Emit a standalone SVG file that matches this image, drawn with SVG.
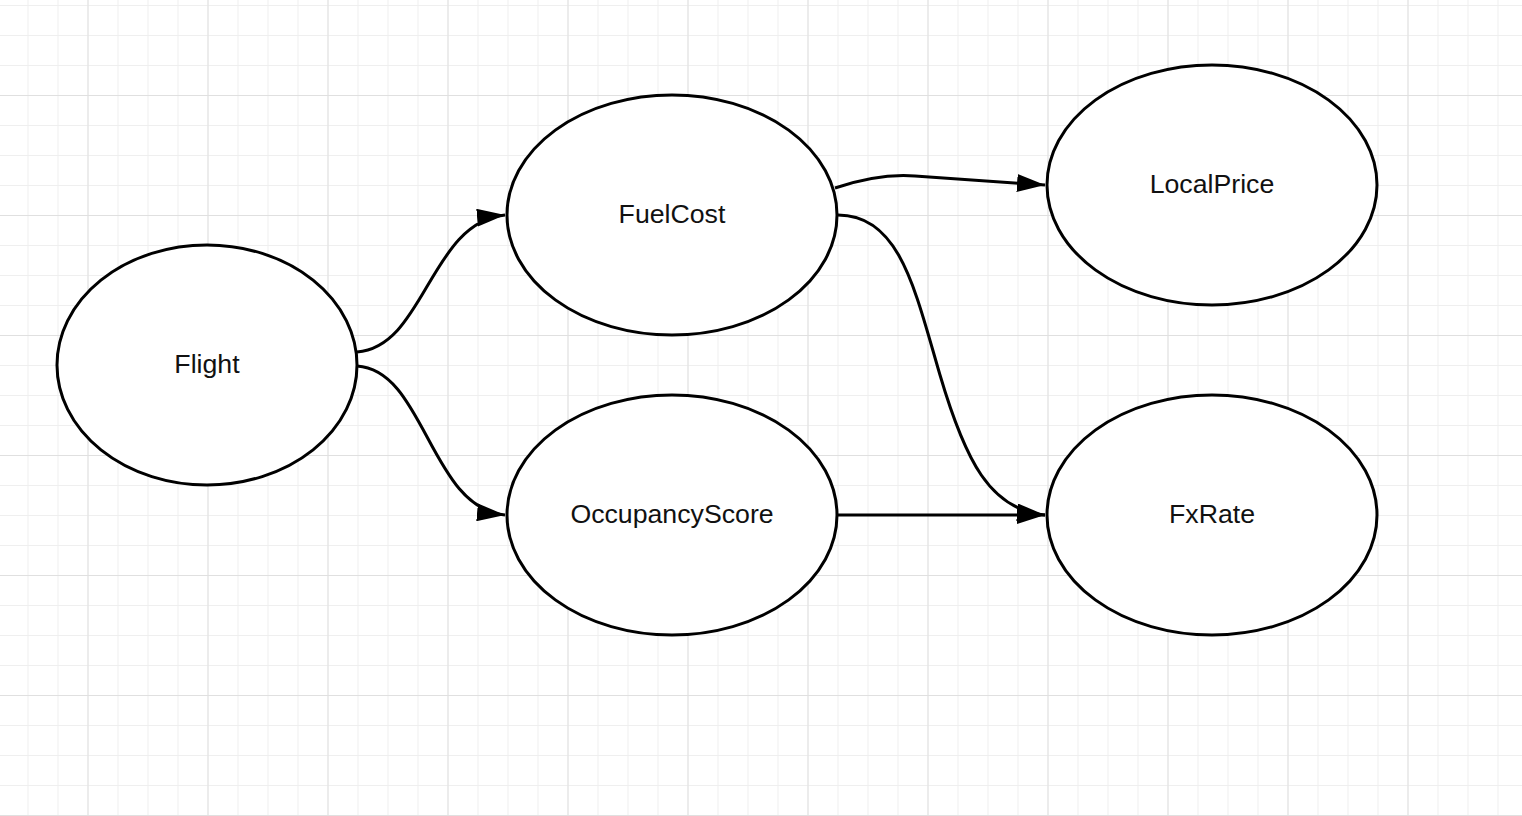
<svg xmlns="http://www.w3.org/2000/svg" width="1522" height="816" viewBox="0 0 1522 816">
<defs>
<pattern id="minor" x="27.5" y="5" width="30" height="30" patternUnits="userSpaceOnUse">
<path d="M0.5 0 V30 M0 0.5 H30" fill="none" stroke="#efefef" stroke-width="1"/>
</pattern>
<pattern id="major" x="87.5" y="95" width="120" height="120" patternUnits="userSpaceOnUse">
<path d="M0.5 0 V120 M0 0.5 H120" fill="none" stroke="#e0e0e0" stroke-width="1"/>
</pattern>
<marker id="arrow" viewBox="0 0 28 18" refX="28" refY="9" markerWidth="28" markerHeight="18" markerUnits="userSpaceOnUse" orient="auto">
<path d="M0 0 L28 9 L0 18 Z" fill="#000"/>
</marker>
<style>
.node ellipse { fill: #fff; stroke: #000; stroke-width: 3; }
.node text { font-family: "Liberation Sans", Arial, sans-serif; font-size: 26.7px; fill: #111; text-anchor: middle; }
.edge { fill: none; stroke: #000; stroke-width: 3; marker-end: url(#arrow); }
</style>
</defs>
<rect width="1522" height="816" fill="#fff"/>
<rect width="1522" height="816" fill="url(#minor)"/>
<rect width="1522" height="816" fill="url(#major)"/>

<g id="connectors">
<path class="edge" d="M357 352 C 425 347 430 222 505 215"/>
<path class="edge" d="M357 366 C 425 370 430 508 505 515"/>
<path class="edge" d="M835 188 C 865 178 890 174 915 176 L 1045 185"/>
<path class="edge" d="M838 215 C 900 215 915 290 940 375 C 965 460 990 510 1045 515"/>
<path class="edge" d="M838 515 L 1045 515"/>
</g>

<g id="node-flight" class="node">
<ellipse cx="207" cy="365" rx="150" ry="120"/>
<text x="207" y="373">Flight</text>
</g>
<g id="node-fuelcost" class="node">
<ellipse cx="672" cy="215" rx="165" ry="120"/>
<text x="672" y="223">FuelCost</text>
</g>
<g id="node-occupancyscore" class="node">
<ellipse cx="672" cy="515" rx="165" ry="120"/>
<text x="672" y="523">OccupancyScore</text>
</g>
<g id="node-localprice" class="node">
<ellipse cx="1212" cy="185" rx="165" ry="120"/>
<text x="1212" y="193">LocalPrice</text>
</g>
<g id="node-fxrate" class="node">
<ellipse cx="1212" cy="515" rx="165" ry="120"/>
<text x="1212" y="523">FxRate</text>
</g>
</svg>
